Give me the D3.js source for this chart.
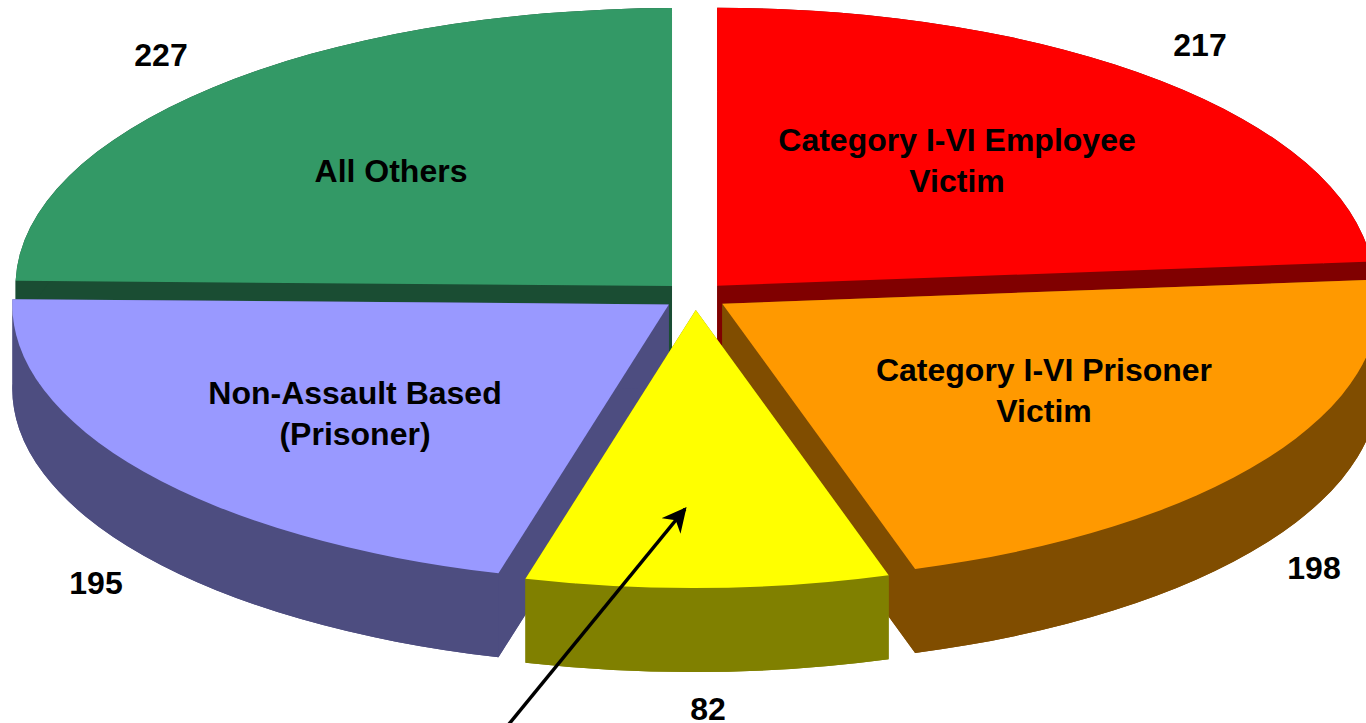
<!DOCTYPE html>
<html>
<head>
<meta charset="utf-8">
<script src="https://cdnjs.cloudflare.com/ajax/libs/d3/7.8.5/d3.min.js"></script>
<style>
  html, body { margin: 0; background: #fff; overflow: hidden; }
  svg { display: block; }
  text { font-family: "Liberation Sans", Arial, sans-serif; font-weight: bold; fill: #000; }
</style>
</head>
<body>
<div id="chart"></div>
<script>
// data
const labelLines = [
  ["Category I-VI Employee", "Victim"],
  ["Category I-VI Prisoner", "Victim"],
  [],
  ["Non-Assault Based", "(Prisoner)"],
  ["All Others"]
];
const counts = [217, 198, 82, 195, 227];
const topColors = ["#ff0000", "#ff9900", "#ffff00", "#9999ff", "#339966"];
const sideColors = ["#800000", "#804d00", "#808000", "#4d4d80", "#1a4d33"];

// where the texts sit, same order as counts
const nameSpots = [[957, 151], [1044, 381], null, [355, 404], [391, 182]];
const countSpots = [[1200, 56], [1314, 579], [708, 720], [96, 594], [161, 66]];

// set dimensions
const width = 1366, height = 723;
const cx = 695, cy = 296, rx = 656.5, ry = 278;
const depth = 84, explode = 0.05, fontSize = 32, lineGap = 41;
const frontLean = 4; // perspective leans the front cuts a little to the left

// unit circle to screen, flattened into the tilted ellipse
const x = d3.scaleLinear().domain([-1, 1]).range([cx - rx, cx + rx]);
const y = d3.scaleLinear().domain([-1, 1]).range([cy + ry, cy - ry]);

const svg = d3.select("#chart")
  .append("svg")
    .attr("width", width)
    .attr("height", height);

svg.append("defs").append("marker")
    .attr("id", "head")
    .attr("viewBox", "0 0 10 10")
    .attr("refX", 9)
    .attr("refY", 5)
    .attr("markerWidth", 7)
    .attr("markerHeight", 7)
    .attr("markerUnits", "strokeWidth")
    .attr("orient", "auto")
  .append("path")
    .attr("d", "M0,0L10,5L0,10L3,5Z")
    .attr("fill", "#000");

const pie = d3.pie().sort(null).value(d => d);
const slices = pie(counts).map((d, i) => {
  const mid = (d.startAngle + d.endAngle) / 2;
  const ox = explode * Math.sin(mid), oy = explode * Math.cos(mid);
  const point = a => [
    x(ox + Math.sin(a)) - frontLean * Math.max(0, -Math.cos(a)),
    y(oy + Math.cos(a))
  ];
  return {
    i: i,
    apex: [x(ox), y(oy)],
    from: point(d.startAngle),
    to: point(d.endAngle)
  };
});

function sector(s, dy) {
  return `M${s.apex[0]},${s.apex[1] + dy}L${s.from[0]},${s.from[1] + dy}` +
    `A${rx},${ry} 0 0 1 ${s.to[0]},${s.to[1] + dy}Z`;
}

function wall(s, p) {
  return `M${s.apex[0]},${s.apex[1]}L${p[0]},${p[1]}` +
    `L${p[0]},${p[1] + depth}L${s.apex[0]},${s.apex[1] + depth}Z`;
}

function rim(s) {
  return `M${s.from[0]},${s.from[1]}A${rx},${ry} 0 0 1 ${s.to[0]},${s.to[1]}` +
    `L${s.to[0]},${s.to[1] + depth}A${rx},${ry} 0 0 0 ${s.from[0]},${s.from[1] + depth}Z`;
}

// back slices first, yellow last so it sits on top
const paintOrder = [4, 0, 1, 3, 2];
const g = svg.selectAll("g.slice")
  .data(paintOrder.map(i => slices[i]))
  .join("g")
    .attr("class", "slice");

// separate paths for floor, cut walls and rim, their windings would cancel in one
g.selectAll("path.side")
  .data(s => [sector(s, depth), wall(s, s.from), wall(s, s.to), rim(s)].map(p => ({p: p, i: s.i})))
  .join("path")
    .attr("class", "side")
    .attr("d", d => d.p)
    .attr("fill", d => sideColors[d.i]);

g.append("path")
    .attr("d", d => sector(d, 0))
    .attr("fill", d => topColors[d.i]);

// arrow pointing at the yellow slice
svg.append("line")
    .attr("x1", 500)
    .attr("y1", 735)
    .attr("x2", 685)
    .attr("y2", 509)
    .attr("stroke", "#000")
    .attr("stroke-width", 3.5)
    .attr("marker-end", "url(#head)");

// slice names
svg.selectAll("text.name")
  .data(labelLines.flatMap((lines, i) => lines.map((t, j) => ({t: t, i: i, j: j}))))
  .join("text")
    .attr("class", "name")
    .attr("x", d => nameSpots[d.i][0])
    .attr("y", d => nameSpots[d.i][1] + d.j * lineGap)
    .attr("text-anchor", "middle")
    .attr("font-size", fontSize)
    .text(d => d.t);

// counts
svg.selectAll("text.count")
  .data(counts)
  .join("text")
    .attr("class", "count")
    .attr("x", (d, i) => countSpots[i][0])
    .attr("y", (d, i) => countSpots[i][1])
    .attr("text-anchor", "middle")
    .attr("font-size", fontSize)
    .text(d => d);
</script>
</body>
</html>
